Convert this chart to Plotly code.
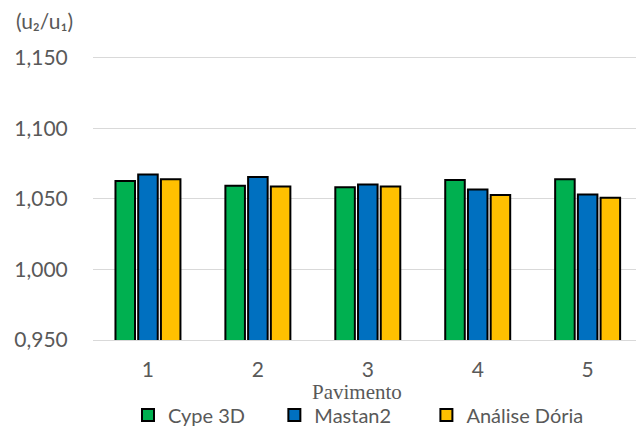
import plotly.graph_objects as go

# Floors (pavimentos) and displacement ratio u2/u1 per analysis method
pavimentos = [1, 2, 3, 4, 5]
cype_3d = [1.0626, 1.0593, 1.0583, 1.0633, 1.0638]
mastan2 = [1.0673, 1.0654, 1.0602, 1.0567, 1.0530]
analise_doria = [1.0638, 1.0588, 1.0588, 1.0527, 1.0508]

series = [
    ("Cype 3D", cype_3d, "#00B050"),
    ("Mastan2", mastan2, "#0070C0"),
    ("Análise Dória", analise_doria, "#FFC000"),
]
legend_ids = ["legend", "legend2", "legend3"]
legend_x = [0.0645, 0.334, 0.614]

font_sans = "Lato, 'Open Sans', sans-serif"
grey = "#595959"

fig = go.Figure()
for (name, vals, color), lg in zip(series, legend_ids):
    fig.add_trace(go.Bar(
        x=pavimentos, y=vals, name=name, legend=lg,
        marker=dict(color=color, line=dict(color="#000000", width=2)),
    ))

# one legend box per series so each entry sits at its own position
legend_style = dict(
    orientation="h", xanchor="left", y=-0.264, yanchor="middle",
    font=dict(family=font_sans, size=20, color=grey),
    itemwidth=30, bgcolor="rgba(0,0,0,0)",
)

fig.update_layout(
    width=636, height=427,
    margin=dict(l=93, r=0, t=56, b=87, autoexpand=False),
    paper_bgcolor="white", plot_bgcolor="white",
    separators=",.",
    barmode="group", bargap=0.38, bargroupgap=0.14,
    font=dict(family=font_sans, size=21, color=grey),
    xaxis=dict(
        range=[0.5, 5.44], tickvals=pavimentos, ticktext=[str(p) for p in pavimentos],
        showgrid=False, showline=True, linecolor="#D9D9D9", linewidth=1,
        ticks="outside", ticklen=11, tickcolor="rgba(0,0,0,0)",
        tickfont=dict(family=font_sans, size=21, color=grey),
        zeroline=False, fixedrange=True,
    ),
    yaxis=dict(
        range=[0.95, 1.1512], tickvals=[0.95, 1.0, 1.05, 1.1, 1.15], tickformat=".3f",
        showgrid=True, gridcolor="#D9D9D9", gridwidth=1,
        ticks="outside", ticklen=20, tickcolor="rgba(0,0,0,0)",
        tickfont=dict(family=font_sans, size=21, color=grey),
        zeroline=False, showline=False,
    ),
    showlegend=True,
    legend=dict(x=legend_x[0], **legend_style),
    legend2=dict(x=legend_x[1], **legend_style),
    legend3=dict(x=legend_x[2], **legend_style),
    annotations=[
        dict(text="(u₂/u₁)", xref="paper", yref="paper",
             x=-0.145, y=1.125, xanchor="left", yanchor="middle", showarrow=False,
             font=dict(family=font_sans, size=21, color=grey)),
        dict(text="Pavimento", xref="paper", yref="paper",
             x=0.486, y=-0.183, xanchor="center", yanchor="middle", showarrow=False,
             font=dict(family="'Liberation Serif', 'Times New Roman', serif", size=21, color=grey)),
    ],
)

fig.write_html("out.html")
